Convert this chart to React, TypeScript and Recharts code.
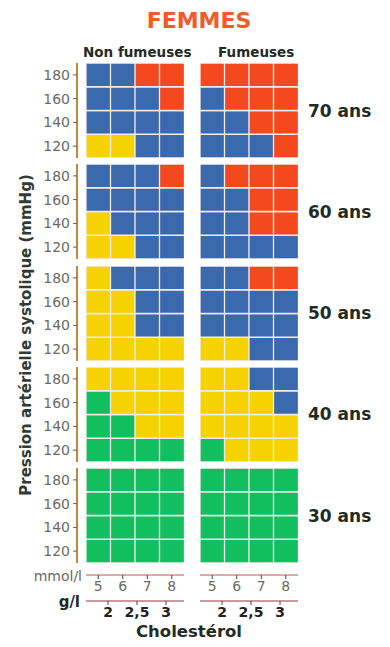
import { BarChart, Bar, LineChart, Line, XAxis, YAxis, Cell } from 'recharts';

// Cholestérol (mmol/l) en colonnes, pression systolique en lignes
const cholMmol = ['5', '6', '7', '8'];
const cholGl = [2, 2.5, 3];
const pasTicks = [120, 140, 160, 180];
const ages = ['70 ans', '60 ans', '50 ans', '40 ans', '30 ans'];

// niveau de risque par case, lignes de 180 (haut) à 120 (bas)
// V = vert, J = jaune, B = bleu, R = rouge
const nonFumeuses70 = ['BBRR', 'BBBR', 'BBBB', 'JJBB'];
const fumeuses70 = ['RRRR', 'BRRR', 'BBRR', 'BBBR'];
const nonFumeuses60 = ['BBBR', 'BBBB', 'JBBB', 'JJBB'];
const fumeuses60 = ['BRRR', 'BBRR', 'BBRR', 'BBBB'];
const nonFumeuses50 = ['JBBB', 'JJBB', 'JJBB', 'JJJJ'];
const fumeuses50 = ['BBRR', 'BBBB', 'BBBB', 'JJBB'];
const nonFumeuses40 = ['JJJJ', 'VJJJ', 'VVJJ', 'VVVV'];
const fumeuses40 = ['JJBB', 'JJJB', 'JJJJ', 'VJJJ'];
const nonFumeuses30 = ['VVVV', 'VVVV', 'VVVV', 'VVVV'];
const fumeuses30 = ['VVVV', 'VVVV', 'VVVV', 'VVVV'];

const nonFumeuses = [nonFumeuses70, nonFumeuses60, nonFumeuses50, nonFumeuses40, nonFumeuses30];
const fumeuses = [fumeuses70, fumeuses60, fumeuses50, fumeuses40, fumeuses30];

const COLORS: Record<string, string> = {
  V: '#12bf5e',
  J: '#f6d300',
  B: '#3b69ae',
  R: '#f4481e',
};

const FONT = '"DejaVu Sans", sans-serif';
const DARK = '#1f2b24';

const PANEL_H = 95;
const PANEL_W = 98;
const ROW_TOP = 63;
const ROW_STEP = 101.3;
const AXIS_W = 47;

// bandes de 20 mmHg centrées sur les graduations
const bandData = cholMmol.map((c) => ({
  chol: c,
  base: pasTicks[0] - 10,
  p120: 20,
  p140: 20,
  p160: 20,
  p180: 20,
}));

const glData = cholGl.map((g) => ({ gl: g }));

function Panel({ grid, withAxis }: { grid: string[]; withAxis: boolean }) {
  return (
    <BarChart
      width={withAxis ? AXIS_W + 9 + PANEL_W : PANEL_W}
      height={PANEL_H}
      data={bandData}
      margin={{ top: 0, right: 0, bottom: 0, left: 0 }}
      barCategoryGap={0}
      barGap={0}
    >
      <XAxis dataKey="chol" hide padding={withAxis ? { left: 9, right: 0 } : { left: 0, right: 0 }} />
      <YAxis
        hide={!withAxis}
        width={AXIS_W}
        type="number"
        domain={[110, 190]}
        allowDataOverflow
        ticks={pasTicks}
        interval={0}
        axisLine={{ stroke: '#c9843a', strokeWidth: 2 }}
        tickLine={{ stroke: '#7a5a3a' }}
        tickSize={4}
        tickMargin={3}
        tick={{ fill: '#6a6a62', fontSize: 14, fontFamily: FONT }}
      />
      <Bar dataKey="base" stackId="p" fill="none" isAnimationActive={false} />
      {pasTicks.map((p, k) => (
        <Bar
          key={p}
          dataKey={'p' + p}
          stackId="p"
          stroke="#f3ecec"
          strokeWidth={1.3}
          isAnimationActive={false}
        >
          {cholMmol.map((c, ci) => (
            <Cell key={c} fill={COLORS[grid[3 - k][ci]]} />
          ))}
        </Bar>
      ))}
    </BarChart>
  );
}

function MmolAxis() {
  return (
    <BarChart
      width={PANEL_W}
      height={32}
      data={bandData}
      margin={{ top: 0, right: 0, bottom: 0, left: 0 }}
      barCategoryGap={0}
    >
      <XAxis
        dataKey="chol"
        height={26}
        interval={0}
        axisLine={{ stroke: '#d98a8a', strokeWidth: 1.5 }}
        tickLine={{ stroke: '#444' }}
        tickSize={4}
        tick={{ fill: '#6a6a62', fontSize: 14, fontFamily: FONT }}
      />
      <YAxis hide domain={[0, 1]} />
      <Bar dataKey="none" fill="none" isAnimationActive={false} />
    </BarChart>
  );
}

function GlAxis() {
  return (
    <LineChart
      width={PANEL_W}
      height={36}
      data={glData}
      margin={{ top: 0, right: 0, bottom: 0, left: 0 }}
    >
      <XAxis
        dataKey="gl"
        type="number"
        domain={[1.62, 3.31]}
        allowDataOverflow
        ticks={cholGl}
        interval={0}
        height={30}
        axisLine={{ stroke: '#b87a7a', strokeWidth: 1.5 }}
        tickLine={{ stroke: '#444' }}
        tickSize={4}
        tickFormatter={(v: number) => String(v).replace('.', ',')}
        tick={{ fill: '#222', fontSize: 14, fontWeight: 'bold', fontFamily: FONT }}
      />
      <YAxis hide />
      <Line dataKey="gl" stroke="none" dot={false} isAnimationActive={false} />
    </LineChart>
  );
}

function Txt({
  x,
  y,
  children,
  size,
  color = DARK,
  bold = true,
  align = 'left',
}: {
  x: number;
  y: number;
  children: string;
  size: number;
  color?: string;
  bold?: boolean;
  align?: 'left' | 'right' | 'center';
}) {
  const w = 200;
  const left = align === 'left' ? x : align === 'right' ? x - w : x - w / 2;
  return (
    <div
      style={{
        position: 'absolute',
        left,
        top: y - 12,
        width: w,
        height: 24,
        lineHeight: '24px',
        textAlign: align,
        fontFamily: FONT,
        fontWeight: bold ? 'bold' : 'normal',
        fontSize: size,
        color,
        whiteSpace: 'nowrap',
      }}
    >
      {children}
    </div>
  );
}

export default function App() {
  return (
    <div style={{ position: 'absolute', left: 0, top: 0, width: 390, height: 647, background: '#fff' }}>
      <Txt x={199} y={21} size={22} color="#f25a28" align="center">FEMMES</Txt>
      <Txt x={83} y={52} size={13.5}>Non fumeuses</Txt>
      <Txt x={218} y={52} size={13.5}>Fumeuses</Txt>

      {ages.map((a, i) => {
        const top = ROW_TOP + i * ROW_STEP;
        return (
          <div key={a}>
            <div style={{ position: 'absolute', left: 86 - 9 - AXIS_W, top }}>
              <Panel grid={nonFumeuses[i]} withAxis />
            </div>
            <div style={{ position: 'absolute', left: 200, top }}>
              <Panel grid={fumeuses[i]} withAxis={false} />
            </div>
            <Txt x={308} y={top + PANEL_H / 2} size={17}>{a}</Txt>
          </div>
        );
      })}

      <div
        style={{
          position: 'absolute',
          left: 26 - 180,
          top: 335 - 12,
          width: 360,
          height: 24,
          lineHeight: '24px',
          textAlign: 'center',
          transform: 'rotate(-90deg)',
          fontFamily: FONT,
          fontWeight: 'bold',
          fontSize: 15,
          color: '#2f3b33',
          whiteSpace: 'nowrap',
        }}
      >
        Pression artérielle systolique (mmHg)
      </div>

      {[86, 200].map((x) => (
        <div key={x}>
          <div style={{ position: 'absolute', left: x, top: 575 - 6 }}>
            <MmolAxis />
          </div>
          <div style={{ position: 'absolute', left: x, top: 601 - 6 }}>
            <GlAxis />
          </div>
        </div>
      ))}
      <Txt x={82} y={576} size={14} color="#6a6a62" bold={false} align="right">mmol/l</Txt>
      <Txt x={80} y={602} size={15} align="right">g/l</Txt>
      <Txt x={189} y={632} size={16.5} align="center">Cholestérol</Txt>
    </div>
  );
}
